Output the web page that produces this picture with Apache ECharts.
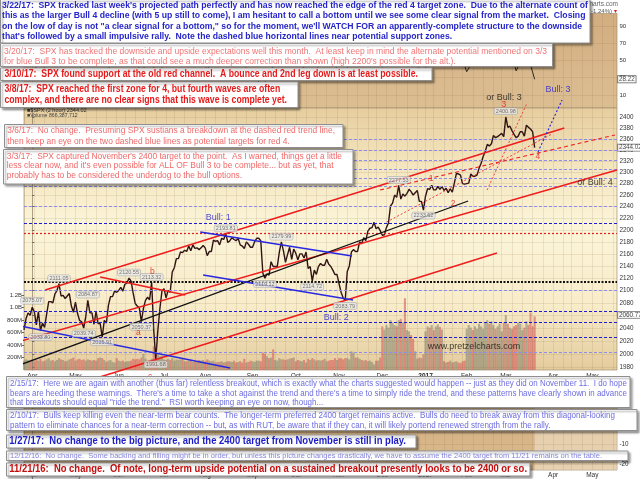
<!DOCTYPE html>
<html>
<head>
<meta charset="utf-8">
<script src="https://cdn.jsdelivr.net/npm/echarts@6.0.0/dist/echarts.min.js"></script>
<style>
html,body{margin:0;padding:0;background:#fff;}
#chart{width:640px;height:479px;}
</style>
</head>
<body>
<div id="chart"></div>
<script>
// ================= DATA =================
const holidays = ['2016-03-25','2016-05-30','2016-07-04','2016-09-05','2016-11-24','2016-12-26','2017-01-02','2017-01-16','2017-02-20','2017-04-14'];

const monthStarts = ['2016-04-01','2016-05-02','2016-06-01','2016-07-01','2016-08-01','2016-09-01','2016-10-03','2016-11-01','2016-12-01','2017-01-03','2017-02-01','2017-03-01','2017-04-03','2017-05-01'];
const monthLabels = ['Apr','May','Jun','Jul','Aug','Sep','Oct','Nov','Dec','2017','Feb','Mar','Apr','May'];

const priceTicks = [1980,2000,2020,2040,2060,2080,2100,2120,2140,2160,2180,2200,2220,2240,2260,2280,2300,2320,2340,2360,2380,2400];

const priceDates = [
'2016-03-28','2016-03-29','2016-03-30','2016-03-31',
'2016-04-01','2016-04-04','2016-04-05','2016-04-06','2016-04-07','2016-04-08','2016-04-11','2016-04-12','2016-04-13','2016-04-14','2016-04-15','2016-04-18','2016-04-19','2016-04-20','2016-04-21','2016-04-22','2016-04-25','2016-04-26','2016-04-27','2016-04-28','2016-04-29',
'2016-05-02','2016-05-03','2016-05-04','2016-05-05','2016-05-06','2016-05-09','2016-05-10','2016-05-11','2016-05-12','2016-05-13','2016-05-16','2016-05-17','2016-05-18','2016-05-19','2016-05-20','2016-05-23','2016-05-24','2016-05-25','2016-05-26','2016-05-27','2016-05-31',
'2016-06-01','2016-06-02','2016-06-03','2016-06-06','2016-06-07','2016-06-08','2016-06-09','2016-06-10','2016-06-13','2016-06-14','2016-06-15','2016-06-16','2016-06-17','2016-06-20','2016-06-21','2016-06-22','2016-06-23','2016-06-24','2016-06-27','2016-06-28','2016-06-29','2016-06-30',
'2016-07-01','2016-07-05','2016-07-06','2016-07-07','2016-07-08','2016-07-11','2016-07-12','2016-07-13','2016-07-14','2016-07-15','2016-07-18','2016-07-19','2016-07-20','2016-07-21','2016-07-22','2016-07-25','2016-07-26','2016-07-27','2016-07-28','2016-07-29',
'2016-08-01','2016-08-02','2016-08-03','2016-08-04','2016-08-05','2016-08-08','2016-08-09','2016-08-10','2016-08-11','2016-08-12','2016-08-15','2016-08-16','2016-08-17','2016-08-18','2016-08-19','2016-08-22','2016-08-23','2016-08-24','2016-08-25','2016-08-26','2016-08-29','2016-08-30','2016-08-31',
'2016-09-01','2016-09-02','2016-09-06','2016-09-07','2016-09-08','2016-09-09','2016-09-12','2016-09-13','2016-09-14','2016-09-15','2016-09-16','2016-09-19','2016-09-20','2016-09-21','2016-09-22','2016-09-23','2016-09-26','2016-09-27','2016-09-28','2016-09-29','2016-09-30',
'2016-10-03','2016-10-04','2016-10-05','2016-10-06','2016-10-07','2016-10-10','2016-10-11','2016-10-12','2016-10-13','2016-10-14','2016-10-17','2016-10-18','2016-10-19','2016-10-20','2016-10-21','2016-10-24','2016-10-25','2016-10-26','2016-10-27','2016-10-28','2016-10-31',
'2016-11-01','2016-11-02','2016-11-03','2016-11-04','2016-11-07','2016-11-08','2016-11-09','2016-11-10','2016-11-11','2016-11-14','2016-11-15','2016-11-16','2016-11-17','2016-11-18','2016-11-21','2016-11-22','2016-11-23','2016-11-25','2016-11-28','2016-11-29','2016-11-30',
'2016-12-01','2016-12-02','2016-12-05','2016-12-06','2016-12-07','2016-12-08','2016-12-09','2016-12-12','2016-12-13','2016-12-14','2016-12-15','2016-12-16','2016-12-19','2016-12-20','2016-12-21','2016-12-22','2016-12-23','2016-12-27','2016-12-28','2016-12-29','2016-12-30',
'2017-01-03','2017-01-04','2017-01-05','2017-01-06','2017-01-09','2017-01-10','2017-01-11','2017-01-12','2017-01-13','2017-01-17','2017-01-18','2017-01-19','2017-01-20','2017-01-23','2017-01-24','2017-01-25','2017-01-26','2017-01-27','2017-01-30','2017-01-31',
'2017-02-01','2017-02-02','2017-02-03','2017-02-06','2017-02-07','2017-02-08','2017-02-09','2017-02-10','2017-02-13','2017-02-14','2017-02-15','2017-02-16','2017-02-17','2017-02-21','2017-02-22','2017-02-23','2017-02-24','2017-02-27','2017-02-28',
'2017-03-01','2017-03-02','2017-03-03','2017-03-06','2017-03-07','2017-03-08','2017-03-09','2017-03-10','2017-03-13','2017-03-14','2017-03-15','2017-03-16','2017-03-17','2017-03-20','2017-03-21'
];

const priceValues = [
2037,2055,2064,2060,
2073,2066,2045,2066,2036,2048,2041,2062,2082,2082,2080,2094,2100,2111,2091,2092,2087,2091,2095,2075,2065,
2081,2063,2052,2050,2040,2058,2084,2064,2064,2046,2066,2047,2047,2026,2052,2048,2076,2090,2090,2099,2097,
2100,2105,2099,2110,2112,2120,2115,2096,2079,2075,2072,2050,2071,2084,2089,2085,2113,2037,1992,2036,2071,2099,
2103,2088,2100,2097,2130,2137,2152,2152,2163,2162,2166,2164,2173,2165,2175,2169,2170,2167,2170,2174,
2170,2157,2164,2164,2183,2181,2182,2175,2186,2184,2194,2179,2182,2187,2184,2182,2186,2175,2173,2169,2180,2176,2171,
2171,2180,2186,2186,2182,2128,2120,2127,2125,2147,2139,2139,2139,2163,2180,2165,2146,2159,2171,2151,2168,
2161,2150,2160,2160,2153,2163,2136,2139,2115,2133,2126,2139,2144,2141,2141,2151,2143,2139,2133,2126,2126,
2111,2097,2088,2084,2131,2140,2163,2167,2164,2164,2180,2177,2187,2182,2198,2203,2204,2213,2202,2205,2199,
2191,2192,2204,2212,2241,2246,2260,2256,2277,2253,2262,2258,2263,2270,2266,2260,2264,2268,2249,2249,2234,
2258,2271,2270,2277,2269,2269,2275,2270,2275,2268,2272,2264,2271,2265,2281,2298,2297,2295,2280,2279,
2280,2281,2297,2293,2293,2295,2307,2316,2328,2337,2350,2347,2351,2366,2362,2364,2367,2370,2364,
2400,2381,2383,2375,2368,2362,2365,2373,2373,2365,2385,2381,2378,2373,2344.02
];

// volume in millions
const volumeValues = [
150,170,160,150,
170,140,160,150,180,140,150,170,190,150,160,140,160,190,170,160,140,150,170,180,200,
150,170,180,160,170,150,170,160,150,160,150,190,200,190,160,130,150,160,130,120,190,
150,140,150,130,140,140,150,180,170,180,170,200,260,180,150,160,180,380,340,250,220,230,
170,160,180,160,190,150,170,160,170,180,140,140,150,160,130,130,140,160,150,160,
140,170,150,140,150,120,130,130,140,120,130,140,140,130,150,120,130,140,120,180,120,130,150,
140,130,150,150,140,280,260,220,190,200,330,160,150,190,170,170,160,170,180,190,200,
140,160,150,140,160,120,180,160,190,170,150,160,150,160,180,140,150,160,160,190,160,
190,190,170,190,190,170,300,280,200,200,180,160,150,160,140,150,130,90,150,150,200,
700,650,720,680,800,760,720,700,800,820,760,1150,640,620,560,500,300,180,200,190,250,
620,700,680,720,640,700,730,690,650,140,120,130,150,120,130,140,120,110,140,150,
660,720,680,640,700,660,740,700,660,760,800,740,780,720,660,700,740,620,760,
880,740,680,660,700,720,760,740,640,680,780,720,920,700,860
];

const rsiDates = ['2016-03-28','2016-04-07','2016-04-20','2016-05-06','2016-05-19','2016-06-08','2016-06-16','2016-06-23','2016-06-27','2016-07-08','2016-07-20','2016-08-02','2016-08-15','2016-09-09','2016-09-22','2016-10-13','2016-10-24','2016-11-04','2016-11-10','2016-11-25','2016-12-01','2016-12-13','2016-12-30','2017-01-06','2017-01-19','2017-01-25','2017-02-01','2017-02-15','2017-02-24','2017-03-01','2017-03-08','2017-03-15','2017-03-21'];
const rsiValues = [60,35,70,38,33,68,35,62,22,75,70,40,68,20,62,34,55,30,72,70,42,75,34,62,45,70,37,78,62,82,38,62,28.22];

const highLabels = [['2016-04-01',2075.07],['2016-04-20',2111.05],['2016-05-10',2084.87],['2016-06-08',2120.55],['2016-06-23',2113.32],['2016-08-15',2193.81],['2016-09-22',2179.99],['2016-12-13',2277.53],['2017-03-01',2400.98]];
const lowLabels = [['2016-04-07',2033.80],['2016-05-06',2039.74],['2016-05-19',2025.91],['2016-06-16',2050.37],['2016-06-27',1991.68],['2016-09-12',2119.12],['2016-10-13',2114.72],['2016-11-04',2083.79],['2016-12-30',2233.62]];

// horizontal levels (price)
const lavenderLevels = [2359, 2340, 2321, 2305, 2289, 2275, 2240, 2100, 2002];
const blueLevels = [2212, 2067, 2049, 2026];
const redDottedLevels = [2195];
const blackDottedLevels = [2114];

// trend lines: [tradingDayIndex1, price1, tradingDayIndex2, price2]   (index 0 = 2016-04-01)
const redSolidLines = [[6.3,2100.7,258.4,2379.8],[-15.5,2010.5,284,2304],[28.2,1960.1,225.7,2161.4],[33,2121.8,74.3,2092.6]];
const blackSolidLines = [[-15.5,1972.1,211.7,2249.7]];
const blueSolidLines = [[-15.5,2049.6,96.1,1978.2],[81.6,2196.6,155.3,2156.4],[83,2125.1,155.8,2084.6]];
const redDashedLines = [[168.9,2268.8,283,2367]];
const redDottedLines = [[220.9,2268.8,240.3,2426],[172.1,2213.6,252,2368]];
const blueDottedLines = [[245.6,2336.2,257.3,2431.6]];

// wave labels: [tradingDayIndex, price, text]
const redWaveLabels = [[229.1,2422.3,'3'],[245.6,2327.2,'4'],[193.7,2288.1,'1'],[204.4,2244.5,'2'],[58.3,2130,'b'],[51.5,2032.3,'a'],[57.3,1964.5,'c']];
const blueWaveLabels = [[90.3,2222.1,'Bull: 1'],[147.6,2057.4,'Bull: 2'],[255.3,2450.4,'Bull: 3']];
const blackWaveLabels = [[229.1,2437.2,'or Bull: 3'],[273.3,2281.1,'or Bull: 4']];
const siteLabels = [[214.6,2012,'www.pretzelcharts.com']];

const priceTags = [2344.02, 2060.77];
const rsiTag = 28.22;
const volumeTicks = [200,400,600,800,1000,1200];
const rsiTicks = [10,30,50,70,90];
const lowerTicks = [-20,-10,0,10,20];

const noteTexts = [
 ["3/22/17:  SPX tracked last week's projected path perfectly and has now reached the edge of the red 4 target zone.  Due to the alternate count of",
  "this as the larger Bull 4 decline (with 5 up still to come), I am hesitant to call a bottom until we see some clear signal from the market.  Closing",
  "on the low of day is not \"a clear signal for a bottom,\" so for the moment, we'll WATCH FOR an apparently-complete structure to the downside",
  "that's followed by a small impulsive rally.  Note the dashed blue horizontal lines near potential support zones."],
 ["3/20/17:  SPX has tracked the downside and upside expectations well this month.  At least keep in mind the alternate potential mentioned on 3/3",
  "for blue Bull 3 to be complete, as that could see a much deeper correction than shown (high 2200's possible for the alt.)."],
 ["3/10/17:  SPX found support at the old red channel.  A bounce and 2nd leg down is at least possible."],
 ["3/8/17:  SPX reached the first zone for 4, but fourth waves are often",
  "complex, and there are no clear signs that this wave is complete yet."],
 ["3/6/17:  No change.  Presuming SPX sustians a breakdown at the dashed red trend line,",
  "then keep an eye on the two dashed blue lines as potential targets for red 4."],
 ["3/3/17:  SPX captured November's 2400 target to the point.  As I warned, things get a little",
  "less clear now, and it's even possible for ALL OF Bull 3 to be complete... but as yet, that",
  "probably has to be considered the underdog to the bull options."],
 ["2/15/17:  Here we are again with another (thus far) relentless breakout, which is exactly what the charts suggested would happen -- just as they did on November 11.  I do hope",
  "bears are heeding these warnings.  There's a time to take a shot against the trend and there's a time to simply ride the trend, and these patterns have clearly shown in advance",
  "that breakouts should equal \"ride the trend.\"  RSI worth keeping an eye on now, though..."],
 ["2/10/17:  Bulls keep killing even the near-term bear counts.  The longer-term preferred 2400 target remains active.  Bulls do need to break away from this diagonal-looking",
  "pattern to eliminate chances for a near-term correction -- but, as with RUT, be aware that if they can, it will likely portend renewed strength from the rally."],
 ["1/27/17:  No change to the big picture, and the 2400 target from November is still in play."],
 ["12/12/16:  No change.  Some backing and filling might be in order, but unless this picture changes drastically, we have to assume the 2400 target from 11/21 remains on the table."],
 ["11/21/16:  No change.  Of note, long-term upside potential on a sustained breakout presently looks to be 2400 or so."]
];

// ================= LAYOUT / STYLE =================
const noteLayout = [
 {x:0.5, y:-0.5, w:589.5, h:43.5, tx:2,   tw:586,   ly:[5.5,15.8,26.1,36.4], fs:9,   fw:'bold',   color:'#2525c8'},
 {x:0.5, y:43.5, w:552,   h:23,   tx:4,   tw:543,   ly:[51.5,61.5],          fs:9,   fw:'normal', color:'#f07575'},
 {x:0.5, y:68,   w:431.5, h:12.5, tx:4.5, tw:413.5, ly:[74.3],               fs:10,  fw:'bold',   color:'#e61a1a'},
 {x:0.5, y:82,   w:297.5, h:25.5, tx:4.5, tw:282.5, ly:[89.5,99.8],          fs:10.5,fw:'bold',   color:'#e61a1a'},
 {x:4.5, y:124.5,w:338.5, h:23,   tx:7.3, tw:327.7, ly:[130.6,141.2],        fs:9,   fw:'normal', color:'#f06868'},
 {x:3.5, y:149.5,w:349.5, h:34.5, tx:6.7, tw:335.3, ly:[156.5,166,175.5],    fs:8.8, fw:'normal', color:'#f06868'},
 {x:6.5, y:376.5,w:623.5, h:31,   tx:10,  tw:617,   ly:[383.8,393.2,402.5],  fs:8.6, fw:'normal', color:'#6c6ce0'},
 {x:6.5, y:409.5,w:630.5, h:21,   tx:10,  tw:605,   ly:[416,425.5],          fs:8.6, fw:'normal', color:'#6c6ce0'},
 {x:6.5, y:435,  w:409.5, h:13,   tx:9.3, tw:396.7, ly:[441.6],              fs:10,  fw:'bold',   color:'#1c1cc8'},
 {x:6.5, y:451,  w:621.5, h:9.5,  tx:10,  tw:592,   ly:[455.9],              fs:7.8, fw:'normal', color:'#8484dc'},
 {x:6.5, y:463,  w:523.5, h:13,   tx:9.3, tw:517.7, ly:[469.6],              fs:10,  fw:'bold',   color:'#c40c0c'}
];

const SANS = '"Liberation Sans", Arial, Helvetica, sans-serif';
const X_MIN = -4, X_MAX = 284;
const P_MIN = 1975.2, P_MAX = 2416.7;

// trading-day index helper
const DAY = 86400000;
const HOL = new Set(holidays);
const isoOf = t => new Date(t).toISOString().slice(0,10);
function countTrading(ds){
  const p = ds.split('-').map(Number);
  const end = Date.UTC(p[0], p[1]-1, p[2]);
  let n = 0;
  for (let t = Date.UTC(2016,0,4); t < end; t += DAY){
    const wd = new Date(t).getUTCDay();
    if (wd > 0 && wd < 6 && !HOL.has(isoOf(t))) n++;
  }
  return n;
}
const BASE = countTrading('2016-04-01');
const tx = ds => countTrading(ds) - BASE;

const monthTicks = monthStarts.map(tx);
const labelOf = new Map(monthTicks.map((v,i)=>[v, monthLabels[i]]));
// weekly vertical grid (every Monday)
const weekTicks = [];
for (let t = Date.UTC(2016,2,28); t <= Date.UTC(2017,4,15); t += 7*DAY) weekTicks.push(tx(isoOf(t)));

const priceData = priceDates.map((d,i)=>[tx(d), priceValues[i]]);
const volumeData = priceDates.map((d,i)=>{
  const up = i === 0 || priceValues[i] >= priceValues[i-1];
  return {value:[tx(d), volumeValues[i]], itemStyle:{color: up ? 'rgba(128,128,108,0.55)' : 'rgba(214,92,92,0.6)'}};
});
const rsiData = rsiDates.map((d,i)=>[tx(d), rsiValues[i]]);
const lastIdx = priceData[priceData.length-1][0];

const gridLineColor = 'rgba(130,100,60,0.22)';

function xAxisFor(gi, showLabels){
  return {
    type:'value', gridIndex:gi, min:X_MIN, max:X_MAX,
    axisLine:{show:false},
    axisTick:{show:false, customValues: monthTicks},
    splitLine:{show:false},
    axisLabel:{
      show:showLabels, customValues: monthTicks, fontSize:6.5, color:'#333', margin:gi===2?1.5:3,
      fontFamily:SANS,
      formatter: v => { const l = labelOf.get(v); return l === '2017' ? '{y|2017}' : (l || ''); },
      rich:{y:{fontWeight:'bold', fontSize:6.5, color:'#222', fontFamily:SANS}}
    }
  };
}

function gridLineSeries(xi, yi, yVal, hLines, area){
  const data = weekTicks.map(v=>({xAxis:v}));
  (hLines||[]).forEach(v=>data.push({yAxis:v}));
  const s = {
    type:'line', xAxisIndex:xi, yAxisIndex:yi, data:[[X_MIN, yVal]], symbol:'none', showSymbol:false,
    lineStyle:{opacity:0}, silent:true, z:1,
    markLine:{silent:true, symbol:['none','none'], label:{show:false}, animation:false,
      lineStyle:{color:gridLineColor, width:0.6, type:'solid'}, data}
  };
  if (area) s.markArea = {silent:true, itemStyle:{color:'rgba(255,250,236,0.38)'}, data:[[{xAxis:area[0]},{xAxis:area[1]}]]};
  return s;
}

function segSeries(lines, style){
  return lines.map(l => ({
    type:'line', xAxisIndex:1, yAxisIndex:1, data:[[l[0],l[1]],[l[2],l[3]]],
    symbol:'none', showSymbol:false, clip:false, silent:true, z:5, lineStyle:style
  }));
}

function textSeries(items, lab){
  return {
    type:'scatter', xAxisIndex:1, yAxisIndex:1, clip:false, symbolSize:0, silent:true, z:9,
    data: items.map(it=>({value:[it[0],it[1]], name:it[2]})),
    label:Object.assign({show:true, position:'inside', formatter:p=>p.name, fontFamily:SANS}, lab)
  };
}

function extremeSeries(items, pos){
  return {
    type:'scatter', xAxisIndex:1, yAxisIndex:1, clip:false, symbolSize:0, silent:true, z:8,
    data: items.map(it=>({value:[tx(it[0]), it[1]], name:it[1].toFixed(2)})),
    label:{show:true, position:pos, distance:2, formatter:p=>p.name, fontSize:5.5, color:'#555',
      backgroundColor:'rgba(232,232,232,0.92)', borderColor:'#9a9a9a', borderWidth:0.5,
      padding:[0.5,1.5,0,1.5], borderRadius:1.5, fontFamily:SANS}
  };
}

function tagSeries(xi, yi, values){
  return {
    type:'scatter', xAxisIndex:xi, yAxisIndex:yi, clip:false, symbolSize:0, silent:true, z:12,
    data: values.map(v=>({value:[X_MAX, v], name:v.toFixed(2)})),
    label:{show:true, position:'right', distance:1, formatter:p=>p.name, fontSize:6.3, color:'#222',
      backgroundColor:'#ffffff', borderColor:'#444', borderWidth:0.7, padding:[0.5,1,0,1], fontFamily:SANS}
  };
}

const levelMarks = [];
lavenderLevels.forEach(v=>levelMarks.push({yAxis:v, lineStyle:{color:'#8c8cf0', type:[3,2], width:1}}));
blueLevels.forEach(v=>levelMarks.push({yAxis:v, lineStyle:{color:'#1c1cd0', type:[3,2], width:1.1}}));
redDottedLevels.forEach(v=>levelMarks.push({yAxis:v, lineStyle:{color:'#e01c1c', type:[2,2], width:1.2}}));
blackDottedLevels.forEach(v=>levelMarks.push({yAxis:v, lineStyle:{color:'#111', type:[2,1.5], width:2}}));

const series = [
  // RSI panel
  gridLineSeries(0, 0, 50, rsiTicks),
  {type:'line', xAxisIndex:0, yAxisIndex:0, data:rsiData, symbol:'none', showSymbol:false,
   lineStyle:{color:'#1a1a1a', width:0.9}, z:3, silent:true},
  tagSeries(0, 0, [rsiTag]),
  // price panel
  gridLineSeries(1, 1, 2200, priceTicks),
  {type:'bar', xAxisIndex:1, yAxisIndex:2, data:volumeData, barWidth:2.1, silent:true, z:1},
  {type:'line', xAxisIndex:1, yAxisIndex:1, data:[[X_MIN,2200]], symbol:'none', showSymbol:false,
   lineStyle:{opacity:0}, silent:true, z:3,
   markLine:{silent:true, symbol:['none','none'], label:{show:false}, animation:false, data:levelMarks}},
  {type:'line', xAxisIndex:1, yAxisIndex:1, data:priceData, symbol:'none', showSymbol:false,
   lineStyle:{color:'#2e1212', width:1.4}, z:4, silent:true},
  ...segSeries(redSolidLines, {color:'#ee1c1c', width:1.4}),
  ...segSeries(blackSolidLines, {color:'#111111', width:1.3}),
  ...segSeries(blueSolidLines, {color:'#2828e0', width:1.4}),
  ...segSeries(redDashedLines, {color:'#ee2222', width:1.1, type:[4,3]}),
  ...segSeries(redDottedLines, {color:'#ee3030', width:0.9, type:[2,2]}),
  ...segSeries(blueDottedLines, {color:'#2020e0', width:1.1, type:[2,2]}),
  extremeSeries(highLabels, 'top'),
  extremeSeries(lowLabels, 'bottom'),
  textSeries(redWaveLabels, {fontSize:8.5, color:'#e01818'}),
  textSeries(blueWaveLabels, {fontSize:9, color:'#1c1cd0'}),
  textSeries(blackWaveLabels, {fontSize:9, color:'#111'}),
  textSeries(siteLabels, {fontSize:9, color:'#111'}),
  tagSeries(1, 1, priceTags),
  // lower panel
  gridLineSeries(2, 3, 0, lowerTicks, [lastIdx, X_MAX])
];

// ================= NOTES (graphic) =================
const mctx = document.createElement('canvas').getContext('2d');
function textWidth(s, fs, fw){ mctx.font = fw + ' ' + fs + 'px ' + SANS; return mctx.measureText(s).width; }

const elements = [];
noteLayout.forEach((L, i) => {
  const lines = noteTexts[i];
  const maxW = Math.max(...lines.map(s => textWidth(s, L.fs, L.fw)));
  const sx = L.tw / maxW;
  elements.push({type:'rect', silent:true, z:100,
    shape:{x:L.x, y:L.y, width:L.w, height:L.h},
    style:{fill:'#ffffff', stroke:'#8e8e8e', lineWidth:1, shadowBlur:2, shadowOffsetX:2, shadowOffsetY:2, shadowColor:'rgba(0,0,0,0.35)'}});
  lines.forEach((s, j) => elements.push({type:'text', silent:true, z:101,
    x:L.tx, y:L.ly[j], scaleX:sx, scaleY:1, originX:0, originY:0,
    style:{text:s, fill:L.color, fontSize:L.fs, fontWeight:L.fw, fontFamily:SANS, verticalAlign:'middle', align:'left'}}));
});
// header texts
elements.push({type:'text', silent:true, z:50, x:618, y:4.5, style:{text:'StockCharts.com', fill:'#666', fontSize:6.5, fontFamily:SANS, align:'right', verticalAlign:'middle'}});
elements.push({type:'text', silent:true, z:50, x:612, y:11.5, style:{text:'Mar 21, 2017  (-1.24%)', fill:'#555', fontSize:6, fontFamily:SANS, align:'right', verticalAlign:'middle'}});
elements.push({type:'text', silent:true, z:50, x:613.5, y:11.5, style:{text:'▾', fill:'#d02020', fontSize:6, fontFamily:SANS, align:'left', verticalAlign:'middle'}});
elements.push({type:'text', silent:true, z:50, x:27, y:110.8, style:{text:'■$SPX (2 hour) 2344.02', fill:'#333', fontSize:5.5, fontFamily:SANS, verticalAlign:'middle'}});
elements.push({type:'text', silent:true, z:50, x:27, y:116, style:{text:'■Volume 866,387,712', fill:'#444', fontSize:5.2, fontFamily:SANS, verticalAlign:'middle'}});

// ================= OPTION =================
const lg = stops => ({type:'linear', x:0, y:0, x2:0, y2:1, colorStops:stops.map(s=>({offset:s[0], color:s[1]}))});

const option = {
  animation:false,
  backgroundColor:'#ffffff',
  textStyle:{fontFamily:SANS},
  grid:[
    {left:24, right:23, top:13.5, height:94.5, show:true, borderColor:'#a3916f', borderWidth:0.7,
     backgroundColor:lg([[0,'#d2ad80'],[1,'#dcbe93']])},
    {left:24, right:23, top:108, height:262, show:true, borderColor:'#a3916f', borderWidth:0.7,
     backgroundColor:lg([[0,'#e6cd9f'],[0.2,'#f3e4bc'],[0.45,'#fcf5d9'],[0.75,'#f8ecca'],[1,'#e4cb9c']])},
    {left:24, right:23, top:379, height:91, show:true, borderColor:'#a3916f', borderWidth:0.7,
     backgroundColor:lg([[0,'#d3ae80'],[1,'#d9b98c']])}
  ],
  xAxis:[xAxisFor(0,false), xAxisFor(1,true), xAxisFor(2,true)],
  yAxis:[
    {type:'value', gridIndex:0, position:'right', min:-5.1, max:104.5,
     axisLine:{show:true, lineStyle:{color:'#8a7a60', width:0.7}},
     axisTick:{show:true, length:2, customValues:rsiTicks, lineStyle:{color:'#666'}},
     splitLine:{show:false},
     axisLabel:{customValues:rsiTicks, fontSize:6, color:'#333', margin:2.5, fontFamily:SANS}},
    {type:'log', logBase:10, gridIndex:1, position:'right', min:P_MIN, max:P_MAX,
     axisLine:{show:true, lineStyle:{color:'#8a7a60', width:0.7}},
     axisTick:{show:true, length:2, customValues:priceTicks, lineStyle:{color:'#666'}},
     splitLine:{show:false},
     minorTick:{show:false}, minorSplitLine:{show:false},
     axisLabel:{customValues:priceTicks, fontSize:6.3, color:'#333', margin:2.5, fontFamily:SANS,
       formatter: v => String(Math.round(v))}},
    {type:'value', gridIndex:1, position:'left', min:0, max:4200,
     axisLine:{show:false},
     axisTick:{show:true, length:2, customValues:volumeTicks, lineStyle:{color:'#666'}},
     splitLine:{show:false},
     axisLabel:{customValues:volumeTicks, fontSize:6, color:'#333', margin:2, fontFamily:SANS,
       formatter: v => v >= 1000 ? (v/1000).toFixed(1) + 'B' : v + 'M'}},
    {type:'value', gridIndex:2, position:'right', min:-23, max:22.5,
     axisLine:{show:true, lineStyle:{color:'#8a7a60', width:0.7}},
     axisTick:{show:true, length:2, customValues:lowerTicks, lineStyle:{color:'#666'}},
     splitLine:{show:false},
     axisLabel:{customValues:lowerTicks, fontSize:6.3, color:'#333', margin:2.5, fontFamily:SANS}}
  ],
  series: series,
  graphic:{elements: elements}
};

const chart = echarts.init(document.getElementById('chart'), null, {renderer:'canvas'});
chart.setOption(option);
</script>
</body>
</html>
